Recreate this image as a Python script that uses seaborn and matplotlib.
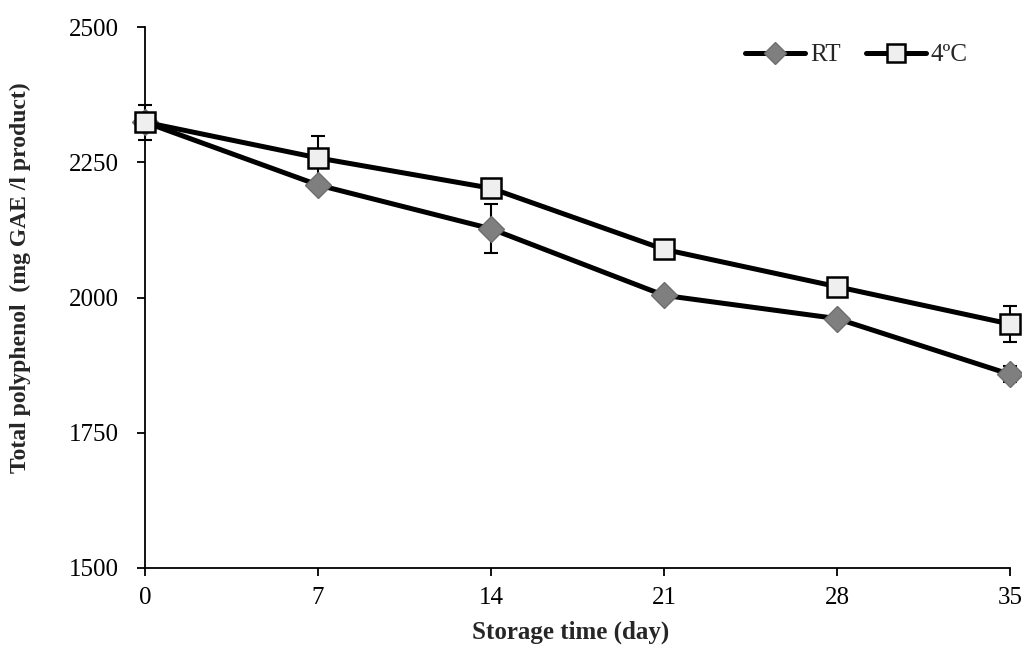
import matplotlib
matplotlib.use("Agg")
import matplotlib.pyplot as plt
import seaborn as sns
import pandas as pd
import numpy as np
from matplotlib.lines import Line2D

days = [0, 7, 14, 21, 28, 35]
rt_values = [2324, 2208, 2127, 2004, 1961, 1858]
rt_err = [0, 0, 45, 0, 0, 15]
cold_values = [2324, 2258, 2202, 2089, 2020, 1951]
cold_err = [32, 40, 0, 0, 0, 33]
series_names = ["RT", "4ºC"]
y_ticks = [1500, 1750, 2000, 2250, 2500]

sns.set_theme(style="white")
plt.rcParams['font.family'] = ['Liberation Serif', 'DejaVu Serif']

df = pd.DataFrame({
    "day": days * 2,
    "value": rt_values + cold_values,
    "series": [series_names[0]] * len(days) + [series_names[1]] * len(days),
})

fig = plt.figure(figsize=(10.22, 6.46), dpi=100)
ax = fig.add_axes([145 / 1022, 78 / 646, 865 / 1022, 541 / 646])

for vals, errs in [(rt_values, rt_err), (cold_values, cold_err)]:
    ax.errorbar(days, vals, yerr=errs, fmt='none', ecolor='black', elinewidth=1.5,
                capsize=4.7, capthick=1.5, zorder=2, clip_on=False)

sns.lineplot(data=df, x="day", y="value", hue="series", style="series",
             palette={"RT": "black", "4ºC": "black"},
             markers={"RT": "D", "4ºC": "s"}, dashes=False,
             linewidth=3.6, ax=ax, legend=False, zorder=3)

for l in ax.get_lines():
    if len(l.get_xdata()) != len(days):
        continue
    l.set_clip_on(False)
    if l.get_marker() == 'D':
        l.set_markerfacecolor('#7f7f7f')
        l.set_markeredgecolor('#6e6e6e')
        l.set_markersize(13)
        l.set_markeredgewidth(1)
    elif l.get_marker() == 's':
        l.set_markerfacecolor('#efefef')
        l.set_markeredgecolor('black')
        l.set_markersize(14)
        l.set_markeredgewidth(1.8)

ax.set_xlim(0, 35)
ax.set_ylim(1500, 2500)
ax.set_xticks(days)
ax.set_yticks(y_ticks)
ax.tick_params(axis='both', labelsize=18, direction='out', length=6, width=1.3,
               bottom=True, left=True, colors='black')
ax.tick_params(axis='x', pad=8)
ax.tick_params(axis='y', pad=13)
for side in ['top', 'right']:
    ax.spines[side].set_visible(False)
for side in ['left', 'bottom']:
    ax.spines[side].set_color('black')
    ax.spines[side].set_linewidth(1.3)

ax.set_xlabel("Storage time (day)", fontsize=18, fontweight='bold')
ax.set_ylabel("Total polyphenol  (mg GAE /l product)", fontsize=17, fontweight='bold')
ax.xaxis.set_label_coords(0.492, -0.097)
ax.yaxis.set_label_coords(-0.132, 0.536)

handles = [
    Line2D([0], [0], color='black', lw=3.6, marker='D', markersize=11,
           markerfacecolor='#7f7f7f', markeredgecolor='#6e6e6e'),
    Line2D([0], [0], color='black', lw=3.6, marker='s', markersize=13,
           markerfacecolor='#efefef', markeredgecolor='black', markeredgewidth=1.8),
]
ax.legend(handles, series_names, loc='center right', bbox_to_anchor=(0.951, 0.948), ncol=2,
          frameon=False, fontsize=18, handlelength=2.4, handletextpad=0.2, columnspacing=1.0,
          borderaxespad=0, borderpad=0)

fig.savefig("out.png", dpi=100)
